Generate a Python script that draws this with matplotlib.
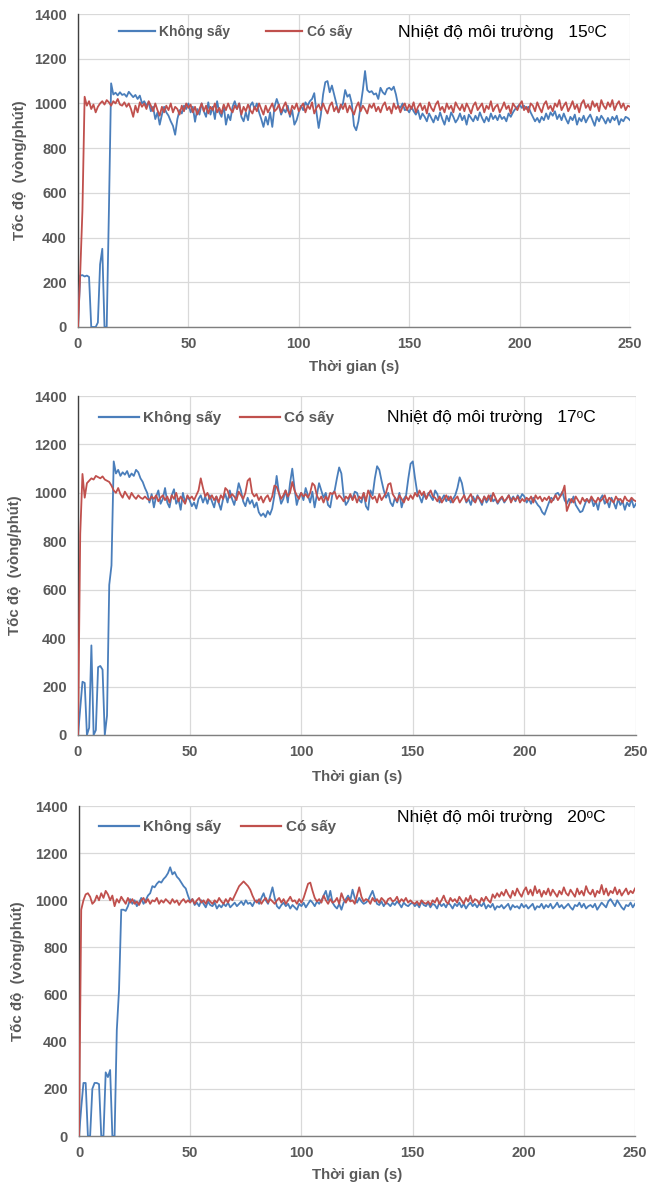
import numpy as np
import matplotlib
matplotlib.use("Agg")
import matplotlib.pyplot as plt

plt.rcParams['font.family'] = ['Liberation Sans', 'DejaVu Sans']

# ---------------- data (1 s sampling, t = 0 .. 250 s) ----------------
xticks = [0, 50, 100, 150, 200, 250]
yticks = [0, 200, 400, 600, 800, 1000, 1200, 1400]
series_names = ["Không sấy", "Có sấy"]
temperatures = ["15", "17", "20"]

# 15 C, without drying
b15 = [
    0, 230, 232, 226, 230, 224, 0, 0, 0, 20,
    280, 350, 0, 0, 520, 1090, 1040, 1048, 1036, 1050,
    1038, 1042, 1030, 1052, 1040, 1028, 1038, 1020, 1035, 1000,
    1010, 990, 1005, 965, 985, 930, 960, 905, 950, 985,
    960, 945, 920, 900, 860, 930, 970, 955, 990, 975,
    1000, 960, 985, 918, 975, 950, 1000, 965, 940, 1005,
    950, 985, 930, 1010, 960, 940, 990, 905, 950, 925,
    985, 1010, 975, 1000, 940, 920, 960, 925, 990, 1005,
    975, 1000, 960, 930, 895, 940, 905, 960, 895, 985,
    1020, 990, 950, 975, 960, 990, 940, 970, 905, 925,
    960, 990, 970, 1005, 990, 1010, 1020, 1046, 960, 890,
    950, 1040, 1095, 1100, 1050, 1080, 1040, 1000, 960, 985,
    1000, 1060, 1030, 1040, 1000, 900, 880, 920, 990, 1060,
    1145, 1060, 1050, 1055, 1040, 1045, 1020, 1070, 1050, 1040,
    1065, 1070, 1060, 1075, 1040, 990, 980, 1000, 970, 975,
    960, 985, 965, 950, 970, 930, 955, 940, 920, 955,
    935, 915, 945, 925, 960, 930, 905, 945, 920, 960,
    940, 915, 930, 955, 925, 945, 905, 950, 935, 920,
    945, 925, 960, 935, 915, 940, 920, 955, 930, 945,
    925, 950, 930, 940, 920, 955, 940, 960, 975, 985,
    995, 980, 990, 975, 985, 960, 940, 920, 935, 915,
    940, 925, 955, 930, 960, 945, 965, 930, 950, 925,
    955, 930, 910, 940, 925, 950, 905, 935, 920, 945,
    915, 935, 950, 925, 900, 940, 920, 945, 930, 910,
    935, 915, 940, 925, 945, 905, 930, 920, 940, 935,
    925,
]
# 15 C, with drying
r15 = [
    0, 240, 520, 1030, 990, 1010, 975, 995, 960, 985,
    1000, 1010, 995, 1015, 1005, 990, 1010, 1000, 1020, 995,
    990, 1005, 985, 1000, 975, 940, 990, 960, 1005, 985,
    1000, 975, 1010, 990, 965, 1000, 970, 945, 985, 960,
    990, 970, 1000, 960, 985, 975, 950, 990, 965, 1000,
    980, 995, 960, 985, 950, 975, 1000, 965, 990, 955,
    985, 970, 1000, 960, 980, 955, 995, 970, 1000, 975,
    960, 990, 975, 1000, 950, 985, 965, 995, 970, 955,
    985, 965, 1000, 975, 950, 990, 960, 980, 1000, 965,
    975, 995, 960, 985, 1005, 970, 950, 990, 975, 1000,
    965, 985, 1000, 960, 990, 975, 1005, 955, 980, 995,
    970, 1000, 975, 955, 990, 1005, 965, 985, 960, 995,
    975, 1000, 960, 990, 970, 950, 985, 1005, 965, 990,
    975, 955, 995, 980, 1000, 965, 985, 960, 990, 1005,
    970, 985, 955, 1000, 975, 990, 960, 985, 1000, 970,
    995, 975, 1005, 960, 985, 1000, 970, 990, 955, 1005,
    980, 965, 995, 1010, 970, 985, 960, 1000, 975, 990,
    960, 1005, 985, 970, 995, 965, 1000, 980, 955, 990,
    1005, 970, 985, 1000, 960, 990, 975, 1010, 965, 985,
    995, 960, 980, 1005, 975, 990, 955, 1000, 985, 970,
    995, 1010, 970, 985, 960, 1000, 990, 965, 1005, 980,
    960, 995, 1010, 975, 990, 965, 1000, 985, 1015, 970,
    990, 1005, 965, 985, 1010, 975, 995, 960, 1000, 1015,
    980, 995, 970, 1010, 985, 1000, 965, 1015, 990, 975,
    1005, 985, 1015, 970, 995, 1010, 980, 1000, 970, 990,
    985,
]
# 17 C, without drying
b17 = [
    0, 110, 220, 215, 0, 30, 370, 0, 20, 280,
    285, 270, 0, 80, 620, 700, 1130, 1080, 1095, 1070,
    1085, 1075, 1090, 1065, 1080, 1070, 1095, 1085, 1060, 1045,
    1020, 1000, 960, 995, 940, 985, 1010, 955, 975, 1020,
    960, 940, 990, 1015, 955, 975, 930, 1000, 960, 985,
    970, 945, 960, 935, 975, 990, 960, 985, 955, 990,
    965, 940, 985, 960, 930, 975, 995, 960, 1010, 975,
    950, 990, 1040, 1010, 965, 945, 980, 955, 970, 940,
    960, 920, 905, 915, 900, 925, 910, 935, 990, 1070,
    1000, 955, 975, 1010, 960, 1040, 1100, 1020, 950, 985,
    1000, 970, 1020, 990, 960, 1005, 940, 990, 1040, 1010,
    980, 1000, 950, 940, 995, 1010, 1060, 1105, 1080, 990,
    950, 965, 990, 975, 1005, 1000, 970, 960, 1000, 945,
    930, 1010, 990, 1060, 1110, 1095, 1050, 1010, 980, 1000,
    960, 945, 980, 960, 1000, 940, 975, 990, 1060, 1120,
    1130, 1060, 1000, 985, 960, 995, 975, 1000, 985, 970,
    1010, 995, 960, 975, 990, 965, 985, 960, 975, 990,
    1020, 1064, 1040, 990, 960, 975, 950, 985, 965, 990,
    970, 950, 985, 960, 975, 990, 965, 975, 955, 970,
    980, 960, 975, 990, 970, 985, 965, 990, 975, 995,
    985, 960, 975, 955, 980, 965, 950, 940, 920, 910,
    935, 960, 980, 970, 995, 1000, 985, 1005, 970, 955,
    975, 960, 985, 950, 935, 920, 925, 950, 975, 960,
    980, 945, 965, 930, 975, 990, 955, 970, 940, 980,
    960, 935, 975, 950, 965, 930, 960, 945, 975, 940,
    955,
]
# 17 C, with drying
r17 = [
    0, 830, 1078, 980, 1040, 1050, 1060, 1055, 1070, 1065,
    1060, 1068, 1055, 1050, 1045, 1030, 1010, 1000, 1020, 995,
    980, 1005, 990, 975, 1000, 985, 975, 990, 980, 975,
    985, 975, 970, 985, 975, 990, 965, 980, 990, 970,
    985, 960, 990, 975, 1000, 965, 985, 970, 955, 990,
    975, 985, 970, 990, 1010, 1060, 1020, 985, 1000, 975,
    990, 970, 985, 960, 990, 975, 1020, 1010, 980, 995,
    985, 970, 1005, 990, 975, 1000, 1050, 1060, 1000, 985,
    995, 970, 985, 960, 980, 990, 965, 985, 1030, 1025,
    1000, 975, 990, 1010, 985, 1000, 1045, 1010, 990, 975,
    1000, 985, 995, 980, 1000, 1040, 1030, 990, 970, 985,
    960, 985, 970, 1000, 995, 1005, 975, 990, 980, 965,
    985, 975, 995, 970, 990, 960, 985, 975, 1000, 965,
    1010, 990, 975, 985, 960, 995, 970, 985, 1000, 1035,
    1040, 995, 980, 965, 990, 975, 960, 985, 970, 990,
    975, 1000, 985, 1010, 990, 1005, 975, 995, 1010, 985,
    980, 965, 985, 960, 975, 990, 970, 985, 960, 975,
    985, 960, 975, 990, 965, 980, 995, 970, 960, 985,
    975, 960, 985, 970, 990, 965, 1000, 980, 960, 975,
    985, 965, 975, 990, 960, 980, 970, 985, 960, 975,
    965, 980, 970, 985, 960, 990, 975, 985, 965, 980,
    970, 985, 960, 975, 990, 970, 985, 1000, 1030, 925,
    950, 975, 960, 985, 970, 955, 980, 965, 975, 960,
    985, 970, 960, 980, 965, 975, 990, 960, 980, 970,
    960, 985, 970, 975, 960, 985, 970, 965, 980, 970,
    965,
]
# 20 C, without drying
b20 = [
    0, 120, 225, 225, 0, 0, 200, 225, 225, 220,
    0, 0, 270, 250, 280, 0, 0, 450, 620, 960,
    960, 955, 975, 1005, 985, 1000, 975, 990, 1010, 985,
    1000, 1020, 1030, 1060, 1055, 1070, 1080, 1075, 1090, 1100,
    1115, 1140, 1110, 1120, 1100, 1090, 1075, 1060, 1050, 1020,
    995, 1005, 980, 990, 975, 1000, 985, 970, 995, 980,
    975, 990, 965, 980, 970, 985, 975, 990, 970, 980,
    990, 975, 985, 995, 980, 1000, 985, 990, 975, 995,
    1000, 985, 1010, 1030, 1000, 985, 1020, 1055, 1010, 975,
    965, 980, 990, 975, 985, 965, 980, 970, 960, 985,
    975, 990, 970, 985, 1000, 990, 975, 995, 985, 1000,
    1020, 1040, 1000, 1040, 990, 975, 965, 985, 960, 990,
    1005, 1020, 1000, 1045, 1010, 990, 1010, 995, 985, 990,
    1000, 1020, 1040, 1010, 985, 980, 995, 975, 990, 985,
    975, 990, 980, 995, 985, 970, 990, 980, 975, 985,
    990, 975, 985, 970, 995, 980, 975, 990, 970, 985,
    980, 965, 990, 975, 985, 970, 990, 980, 965, 985,
    975, 990, 970, 985, 965, 980, 990, 975, 985, 970,
    985, 975, 990, 965, 980, 970, 985, 960, 975, 970,
    980, 965, 975, 985, 960, 980, 970, 975, 965, 985,
    970, 980, 965, 975, 985, 960, 975, 970, 985, 965,
    980, 970, 985, 965, 975, 990, 970, 980, 965, 975,
    985, 970, 960, 980, 975, 990, 970, 985, 965, 975,
    980, 970, 985, 960, 975, 990, 980, 970, 995, 1005,
    990, 975, 1000, 985, 970, 960, 980, 975, 990, 970,
    985,
]
# 20 C, with drying
r20 = [
    0, 960, 1000, 1025, 1030, 1015, 985, 995, 1020, 1000,
    1030, 1010, 1040, 1025, 1000, 1020, 975, 1005, 990, 1015,
    1000, 985, 1010, 990, 1005, 985, 995, 980, 1000, 1010,
    990, 1005, 985, 1000, 995, 1010, 985, 1000, 990, 1005,
    995, 985, 1005, 990, 1000, 980, 995, 1005, 990, 1000,
    990, 1005, 985, 1000, 1010, 990, 1000, 985, 1005, 995,
    985, 1000, 990, 1010, 995, 985, 1005, 990, 1010, 1000,
    1020, 1040, 1060, 1070, 1080, 1070, 1060, 1045, 1020, 1000,
    990, 1005, 985, 1000, 1010, 990, 1005, 995, 985, 1000,
    1010, 990, 1005, 985, 1000, 1015, 995, 1000, 985, 1005,
    990, 1010, 1040, 1070, 1075, 1040, 1010, 995, 1005, 990,
    1020, 1000, 985, 1005, 990, 995, 1010, 985, 1030, 1005,
    990, 1010, 995, 1000, 985, 1020, 1055, 1015, 995, 1005,
    1000, 985, 1010, 995, 1005, 990, 1010, 1000, 985, 1005,
    1010, 995, 1000, 1015, 990, 1005, 995, 1010, 990, 1000,
    990, 985, 995, 980, 1000, 990, 985, 995, 980, 1000,
    990, 1010, 985, 1000, 1020, 995, 985, 1010, 995, 1005,
    990, 1015, 1000, 985, 1010, 995, 1020, 990, 1005, 1000,
    985, 1010, 995, 1015, 1000, 990, 1025, 1010, 1030, 1015,
    1035, 1020, 1045, 1025, 1010, 1040, 1020, 1050, 1030, 1015,
    1040, 1055, 1025, 1045, 1020, 1060, 1030, 1045, 1015, 1040,
    1025, 1050, 1020, 1045, 1030, 1015, 1040, 1025, 1055, 1030,
    1020, 1045, 1030, 1015, 1050, 1025, 1040, 1020, 1060, 1035,
    1025, 1045, 1015, 1040, 1030, 1065, 1025, 1050, 1020, 1040,
    1030, 1055, 1025, 1045, 1020, 1035, 1050, 1025, 1040, 1030,
    1050,
]

panels = [(b15, r15), (b17, r17), (b20, r20)]

# ---------------- styling ----------------
BLUE = '#4A7EBB'
RED = '#C0504D'
GRAY = '#595959'
GRID = '#D9D9D9'

# axes rectangles in figure fraction (from pixel measurements of the reference)
rects = [
    [78 / 650, 1 - 327 / 1189, 552 / 650, 313 / 1189],
    [78 / 650, 1 - 735 / 1189, 558 / 650, 339 / 1189],
    [79 / 650, 1 - 1136 / 1189, 556 / 650, 330 / 1189],
]
legend_anchor = [(0.074, 0.942), (0.0376, 0.935), (0.036, 0.936)]
legend_fs = [10, 11, 11]
legend_colsp = [2.6, 1.2, 1.3]
note_pos = [(0.58, 0.942), (0.554, 0.938), (0.572, 0.964)]
ylabel_x = [-0.105, -0.113, -0.110]
xlabel_y = [-0.128, -0.124, -0.118]

fig = plt.figure(figsize=(6.5, 11.89), dpi=100)

for i, (blue, red) in enumerate(panels):
    ax = fig.add_axes(rects[i])
    tb = np.linspace(0, 250, len(blue))
    tr = np.linspace(0, 250, len(red))
    ax.plot(tb, blue, color=BLUE, lw=1.3, label=series_names[0], zorder=3)
    ax.plot(tr, red, color=RED, lw=1.3, label=series_names[1], zorder=4)

    ax.set_xlim(0, 250)
    ax.set_ylim(0, 1400)
    ax.set_xticks(xticks)
    ax.set_yticks(yticks)
    ax.grid(True, color=GRID, lw=0.9, zorder=0)
    ax.set_axisbelow(True)
    for s in ['top', 'right']:
        ax.spines[s].set_visible(False)
    ax.spines['left'].set_color('#404040')
    ax.spines['bottom'].set_color('#7F7F7F')
    ax.spines['left'].set_linewidth(1.0)
    ax.spines['bottom'].set_linewidth(1.0)
    ax.tick_params(axis='both', length=0, labelsize=10.5, labelcolor=GRAY)
    ax.tick_params(axis='x', pad=7)
    ax.tick_params(axis='y', pad=8)
    for lab in ax.get_xticklabels() + ax.get_yticklabels():
        lab.set_fontweight('bold')

    ax.set_xlabel("Thời gian (s)", fontsize=10.8, fontweight='bold', color=GRAY, va='center')
    ax.xaxis.set_label_coords(0.5, xlabel_y[i])
    ax.set_ylabel("Tốc độ  (vòng/phút)", fontsize=10.8, fontweight='bold', color=GRAY, va='center')
    ax.yaxis.set_label_coords(ylabel_x[i], 0.5)

    leg = ax.legend(loc='center left', bbox_to_anchor=legend_anchor[i], ncol=2,
                    frameon=False, borderaxespad=0, borderpad=0,
                    handlelength=2.6, handletextpad=0.3,
                    columnspacing=legend_colsp[i],
                    prop={'size': legend_fs[i], 'weight': 'bold'})
    for txt in leg.get_texts():
        txt.set_color(GRAY)
    for h in leg.get_lines():
        h.set_linewidth(1.6)

    ax.text(note_pos[i][0], note_pos[i][1],
            "Nhiệt độ môi trường   " + temperatures[i] + "ᵒC",
            transform=ax.transAxes, ha='left', va='center', fontsize=12.5, color='black')

fig.savefig("out.png", dpi=100)
